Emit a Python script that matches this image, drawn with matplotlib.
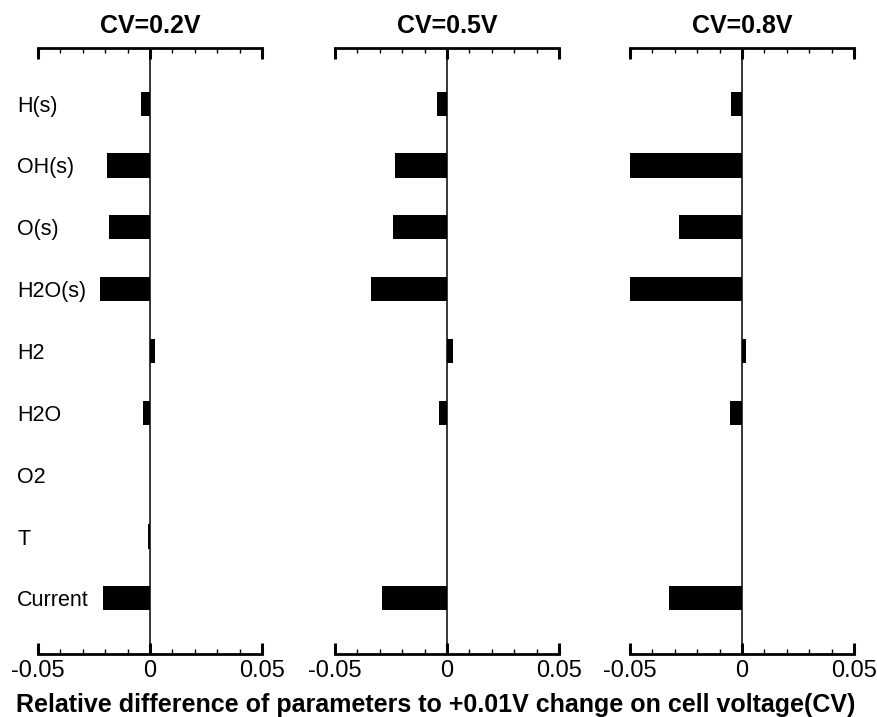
import matplotlib
matplotlib.use("Agg")
import matplotlib.pyplot as plt
import numpy as np
from matplotlib.ticker import MultipleLocator

plt.rcParams['font.family'] = ['Liberation Sans', 'DejaVu Sans']

params = ["H(s)", "OH(s)", "O(s)", "H2O(s)", "H2", "H2O", "O2", "T", "Current"]
titles = ["CV=0.2V", "CV=0.5V", "CV=0.8V"]

# relative change of each parameter for a +0.01 V step
cv02 = [-0.0041, -0.0190, -0.0185, -0.0224, 0.0023, -0.0031, 0.0, -0.0008, -0.0212]
cv05 = [-0.0046, -0.0233, -0.0240, -0.0338, 0.0025, -0.0036, 0.0, 0.0, -0.0289]
cv08 = [-0.0047, -0.0500, -0.0280, -0.0500, 0.0019, -0.0054, 0.0, 0.0, -0.0327]

fig = plt.figure(figsize=(8.77, 7.17), dpi=100)
lefts = [38, 335, 630]
ypos = np.arange(len(params))

for k, (vals, title) in enumerate(zip([cv02, cv05, cv08], titles)):
    ax = fig.add_axes([lefts[k] / 877, 1 - 654 / 717, 224 / 877, 606 / 717])
    ax.barh(ypos, vals, height=0.39, color='black', zorder=3)
    ax.axvline(0, color='black', lw=1.1, zorder=2)
    ax.set_xlim(-0.05, 0.05)
    ax.set_ylim(len(params) - 1 + 0.9, -0.9)

    for s in ['left', 'right']:
        ax.spines[s].set_visible(False)
    for s in ['top', 'bottom']:
        ax.spines[s].set_linewidth(2.0)

    ax.xaxis.set_minor_locator(MultipleLocator(0.01))
    ax.set_xticks([-0.05, 0, 0.05])
    ax.set_xticklabels(["-0.05", "0", "0.05"])
    ax.tick_params(axis='x', which='major', direction='in', top=True, bottom=True,
                   length=8, width=2.2, labelsize=17, pad=4)
    ax.tick_params(axis='x', which='minor', direction='in', top=True, bottom=True,
                   length=3.5, width=1.0)

    if k == 0:
        ax.set_yticks(ypos)
        ax.set_yticklabels(params, ha='left', fontsize=15.5)
        ax.tick_params(axis='y', length=0, pad=15)
    else:
        ax.set_yticks([])

    ax.set_title(title, fontsize=18, fontweight='bold', pad=11)

fig.text(0.497, 1 - 705 / 717,
         "Relative difference of parameters to +0.01V change on cell voltage(CV)",
         ha='center', va='center', fontsize=18, fontweight='bold')

fig.savefig("out.png", dpi=100)
